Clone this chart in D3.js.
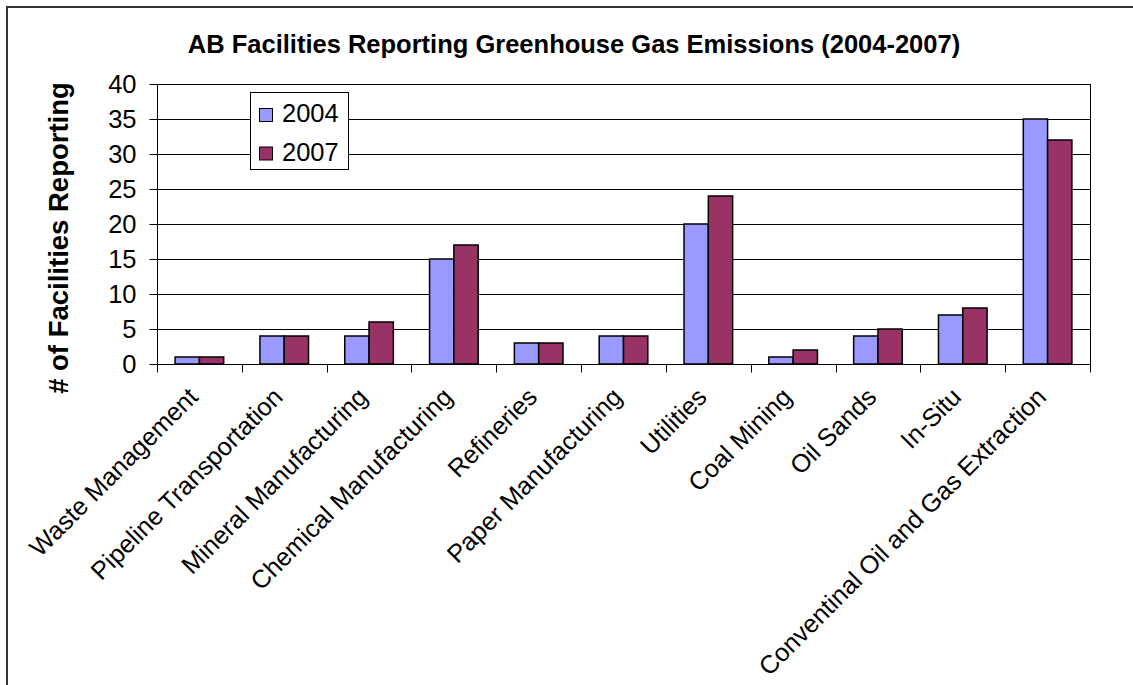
<!DOCTYPE html>
<html>
<head>
<meta charset="utf-8">
<script src="https://cdn.jsdelivr.net/npm/d3@7"></script>
<style>
  html, body { margin: 0; padding: 0; background: #fff; }
  svg { display: block; }
  text { font-family: "Liberation Sans", Arial, sans-serif; fill: #000; }
</style>
</head>
<body>
<svg id="chart" width="1133" height="685"></svg>
<script>
const categories = ["Waste Management", "Pipeline Transportation", "Mineral Manufacturing",
  "Chemical Manufacturing", "Refineries", "Paper Manufacturing", "Utilities", "Coal Mining",
  "Oil Sands", "In-Situ", "Conventinal Oil and Gas Extraction"];
const series = ["2004", "2007"];
const values2004 = [1, 4, 4, 15, 3, 4, 20, 1, 4, 7, 35];
const values2007 = [1, 4, 6, 17, 3, 4, 24, 2, 5, 8, 32];
const yTicks = [0, 5, 10, 15, 20, 25, 30, 35, 40];
const colors = ["#9999FF", "#993366"];
const title = "AB Facilities Reporting Greenhouse Gas Emissions (2004-2007)";
const yLabel = "# of Facilities Reporting";

const svg = d3.select("#chart");
const plot = { left: 157, right: 1090, top: 84, bottom: 364 };

// outer frame
svg.append("rect").attr("x", 7).attr("y", 7).attr("width", 1150).attr("height", 700)
  .attr("fill", "none").attr("stroke", "#333").attr("stroke-width", 2);

const x0 = d3.scaleBand().domain(categories).range([plot.left, plot.right]).padding(0);
const x1 = d3.scaleBand().domain(series).range([0, x0.bandwidth()]).paddingInner(0).paddingOuter(0.745);
const y = d3.scaleLinear().domain([0, 40]).range([plot.bottom, plot.top]);

// gridlines
svg.append("g").selectAll("line").data(yTicks.filter(d => d > 0)).join("line")
  .attr("x1", plot.left).attr("x2", plot.right)
  .attr("y1", d => Math.round(y(d)) + 0.5).attr("y2", d => Math.round(y(d)) + 0.5)
  .attr("stroke", "#000").attr("stroke-width", 1);

// right border of plot
svg.append("line").attr("x1", plot.right + 0.5).attr("x2", plot.right + 0.5)
  .attr("y1", plot.top).attr("y2", plot.bottom).attr("stroke", "#000");

// bars
const data = categories.map((c, i) => ({ c, vals: [values2004[i], values2007[i]] }));
const groups = svg.append("g").selectAll("g").data(data).join("g")
  .attr("transform", d => `translate(${x0(d.c)},0)`);
groups.selectAll("rect").data(d => d.vals.map((v, j) => ({ s: series[j], v, j }))).join("rect")
  .attr("x", d => x1(d.s))
  .attr("y", d => y(d.v))
  .attr("width", x1.bandwidth())
  .attr("height", d => y(0) - y(d.v))
  .attr("fill", d => colors[d.j])
  .attr("stroke", "#000").attr("stroke-width", 1.5);

// y axis
const yAxis = d3.axisLeft(y).tickValues(yTicks).tickSize(8).tickPadding(13);
const gy = svg.append("g").attr("transform", `translate(${plot.left + 0.5},0)`).call(yAxis);
gy.select(".domain").attr("stroke", "#000").attr("d", `M0,${plot.top}V${plot.bottom}`);
gy.selectAll(".tick line").attr("stroke", "#000");
gy.selectAll(".tick text").attr("font-size", 25.5).attr("font-family", "Liberation Sans, Arial, sans-serif").attr("fill", "#000");

// x axis
const gx = svg.append("g").attr("transform", `translate(0,${plot.bottom + 0.5})`);
gx.append("line").attr("x1", plot.left).attr("x2", plot.right + 1).attr("y1", 0).attr("y2", 0).attr("stroke", "#000");
const boundaries = categories.map(c => x0(c)).concat([plot.right]);
gx.selectAll("line.tk").data(boundaries).join("line").attr("class", "tk")
  .attr("x1", d => Math.round(d) + 0.5).attr("x2", d => Math.round(d) + 0.5)
  .attr("y1", 0).attr("y2", 8).attr("stroke", "#000");
gx.selectAll("text").data(categories).join("text")
  .attr("transform", d => `translate(${x0(d) + x0.bandwidth() / 2},${34}) rotate(-45)`)
  .attr("text-anchor", "end")
  .attr("font-size", 25.3)
  .text(d => d);

// title
svg.append("text").attr("x", 574).attr("y", 53).attr("text-anchor", "middle")
  .attr("font-size", 25.5).attr("font-weight", "bold").text(title);

// y label
svg.append("text").attr("transform", "translate(68,238) rotate(-90)")
  .attr("text-anchor", "middle").attr("font-size", 27.5).attr("font-weight", "bold").text(yLabel);

// legend
const leg = svg.append("g");
leg.append("rect").attr("x", 250.5).attr("y", 92.5).attr("width", 98).attr("height", 77)
  .attr("fill", "#fff").attr("stroke", "#000");
series.forEach((s, i) => {
  leg.append("rect").attr("x", 259.5).attr("y", 108.5 + i * 38.5).attr("width", 13).attr("height", 13)
    .attr("fill", colors[i]).attr("stroke", "#000").attr("stroke-width", 1);
  leg.append("text").attr("x", 282).attr("y", 122 + i * 38.5).attr("font-size", 25.5).text(s);
});
</script>
</body>
</html>
